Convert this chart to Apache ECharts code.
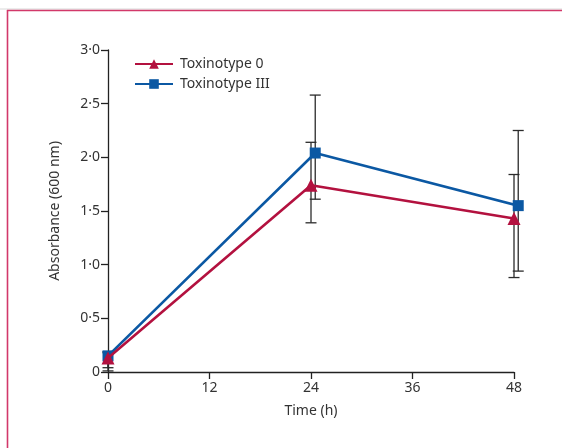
<!DOCTYPE html>
<html>
<head>
<meta charset="utf-8">
<script src="https://cdn.jsdelivr.net/npm/echarts@6/dist/echarts.min.js"></script>
<style>html,body{margin:0;padding:0;background:#fff}#c{width:562px;height:448px}</style>
</head>
<body>
<div id="c"></div>
<script>
var times = [0, 24, 48];
var xTicks = [0, 12, 24, 36, 48];
var seriesNames = ['Toxinotype 0', 'Toxinotype III'];
var tox0 = [0.13, 1.74, 1.43];
var tox0Low = [0.04, 1.39, 0.88];
var tox0High = [0.18, 2.14, 1.84];
var tox3 = [0.15, 2.04, 1.55];
var tox3Low = [0.01, 1.61, 0.94];
var tox3High = [0.19, 2.58, 2.25];
var blueDodge = 0.5;

var RED = '#b3113f', BLUE = '#0b58a3', AX = '#222';
var FONT = 'Noto Sans';

function errSeries(name, xs, lo, hi) {
  return {
    type: 'custom', name: name + ' err', z: 1, silent: true, clip: false,
    data: xs.map(function (x, i) { return [x, lo[i], hi[i]]; }),
    encode: { x: 0, y: [1, 2] },
    renderItem: function (params, api) {
      var a = api.coord([api.value(0), api.value(1)]);
      var b = api.coord([api.value(0), api.value(2)]);
      var w = 5.5;
      var st = { stroke: '#2b2b2b', lineWidth: 1.3 };
      return { type: 'group', children: [
        { type: 'line', shape: { x1: a[0], y1: a[1], x2: b[0], y2: b[1] }, style: st },
        { type: 'line', shape: { x1: a[0] - w, y1: a[1], x2: a[0] + w, y2: a[1] }, style: st },
        { type: 'line', shape: { x1: b[0] - w, y1: b[1], x2: b[0] + w, y2: b[1] }, style: st }
      ]};
    }
  };
}

var blueX = times.map(function (t, i) { return i === 0 ? t : t + blueDodge; });

var chart = echarts.init(document.getElementById('c'));
chart.setOption({
  animation: false,
  backgroundColor: '#fff',
  textStyle: { fontFamily: FONT },
  graphic: [
    { type: 'line', shape: { x1: 0, y1: 9, x2: 562, y2: 9 }, style: { stroke: '#d8d8d8', lineWidth: 1 } },
    { type: 'line', shape: { x1: 7, y1: 10.5, x2: 562, y2: 10.5 }, style: { stroke: '#d2386a', lineWidth: 1.6 } },
    { type: 'line', shape: { x1: 7.5, y1: 10, x2: 7.5, y2: 448 }, style: { stroke: '#d2386a', lineWidth: 1.6 } }
  ],
  grid: { left: 108, top: 50, right: 48, bottom: 76, containLabel: false },
  legend: {
    orient: 'vertical', left: 134, top: 57, padding: 0, itemWidth: 38, itemHeight: 12, itemGap: 6,
    data: seriesNames,
    textStyle: { fontSize: 14, color: '#333', fontFamily: FONT, padding: [0, 0, 0, 2] }
  },
  xAxis: {
    type: 'value', min: 0, max: 48, interval: 12,
    name: 'Time (h)', nameLocation: 'middle', nameGap: 32,
    nameTextStyle: { fontSize: 14, color: '#333' },
    axisLine: { show: true, lineStyle: { color: AX, width: 1.3 } },
    axisTick: { show: true, length: 7, lineStyle: { color: AX, width: 1.3 } },
    axisLabel: { fontSize: 14, color: '#333', margin: 9,
      formatter: function (v) { return xTicks.indexOf(v) >= 0 ? String(v) : ''; } },
    splitLine: { show: false }
  },
  yAxis: {
    type: 'value', min: 0, max: 3, interval: 0.5,
    name: 'Absorbance (600 nm)', nameLocation: 'middle', nameGap: 46,
    nameTextStyle: { fontSize: 14, color: '#333' },
    axisLine: { show: true, lineStyle: { color: AX, width: 1.3 } },
    axisTick: { show: true, length: 7, lineStyle: { color: AX, width: 1.3 } },
    axisLabel: { fontSize: 14, color: '#333', margin: 8,
      formatter: function (v) { return v === 0 ? '0' : v.toFixed(1).replace('.', '\u00b7'); } },
    splitLine: { show: false }
  },
  series: [
    errSeries(seriesNames[0], times, tox0Low, tox0High),
    errSeries(seriesNames[1], blueX, tox3Low, tox3High),
    {
      type: 'line', name: seriesNames[0], z: 3, clip: false,
      data: times.map(function (t, i) { return [t, tox0[i]]; }),
      symbol: 'triangle', symbolSize: 13,
      lineStyle: { color: RED, width: 2.6 }, itemStyle: { color: RED }
    },
    {
      type: 'line', name: seriesNames[1], z: 2, clip: false,
      data: blueX.map(function (t, i) { return [t, tox3[i]]; }),
      symbol: 'rect', symbolSize: 11,
      lineStyle: { color: BLUE, width: 2.6 }, itemStyle: { color: BLUE }
    }
  ]
});
</script>
</body>
</html>
